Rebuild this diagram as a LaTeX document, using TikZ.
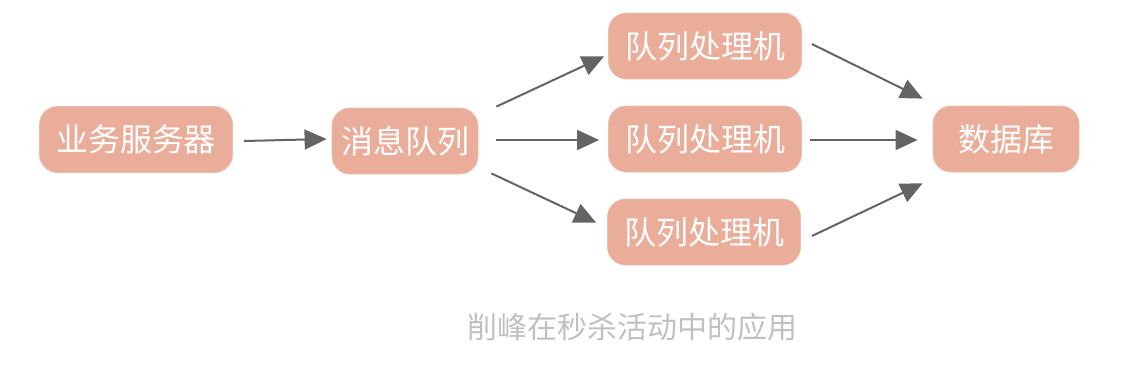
\documentclass[tikz,border=0pt]{standalone}
\usepackage{fontspec}
\newfontfamily\cjk{Noto Sans CJK SC}
\usepackage{tikz}
\usetikzlibrary{positioning, arrows.meta, calc}
\usepackage{xcolor}
\definecolor{boxsalmon}{RGB}{233, 173, 153}
\definecolor{arrowgray}{RGB}{100, 100, 100}
\definecolor{captiongray}{RGB}{192, 192, 192}

\begin{document}
\begin{tikzpicture}[
    x=0.5pt, y=-0.5pt,
    box/.style={rectangle, draw=boxsalmon!80!white, fill=boxsalmon, line width=0.4pt, rounded corners=9pt,
        minimum height=33pt, inner sep=0pt, text=white, font=\cjk\fontsize{16pt}{18pt}\selectfont},
    wide/.style={box, minimum width=96.5pt},
    narrow/.style={box, minimum width=73pt},
    arr/.style={draw=arrowgray, line width=1pt, -{Triangle[length=11pt, width=10pt]}, fill=arrowgray}
]
    \useasboundingbox (0,0) rectangle (1142,365);

    \node[wide] (srv) at (136,139.5) {业务服务器};
    \node[narrow] (mq) at (405,141) {消息队列};
    \node[wide] (p1) at (705,46) {队列处理机};
    \node[wide] (p2) at (705,139) {队列处理机};
    \node[wide] (p3) at (704,232) {队列处理机};
    \node[narrow] (db) at (1006,139) {数据库};

    \draw[arr] ($(srv.east)+(11,1.5)$) -- ($(mq.west)+(-5,-2)$);

    % fan out to the three workers
    \draw[arr] ($(mq.north east)+(18,-1)$) -- ($(p1.south west)+(-4,-23)$);
    \draw[arr] ($(mq.east)+(18,-1)$) -- ($(p2.west)+(-9,1)$);
    \draw[arr] ($(mq.south east)+(13,-1)$) -- ($(p3.north west)+(-11,24)$);

    % workers into the database
    \draw[arr] ($(p1.east)+(10,-2)$) -- ($(db.north west)+(-10,-7)$);
    \draw[arr] ($(p2.east)+(8,1)$) -- ($(db.west)+(-15,1)$);
    \draw[arr] ($(p3.east)+(11,4)$) -- ($(db.south west)+(-10,11)$);

    \node[text=captiongray, font=\cjk\fontsize{15pt}{17pt}\selectfont] (cap) at (632,327) {削峰在秒杀活动中的应用};
\end{tikzpicture}
\end{document}
